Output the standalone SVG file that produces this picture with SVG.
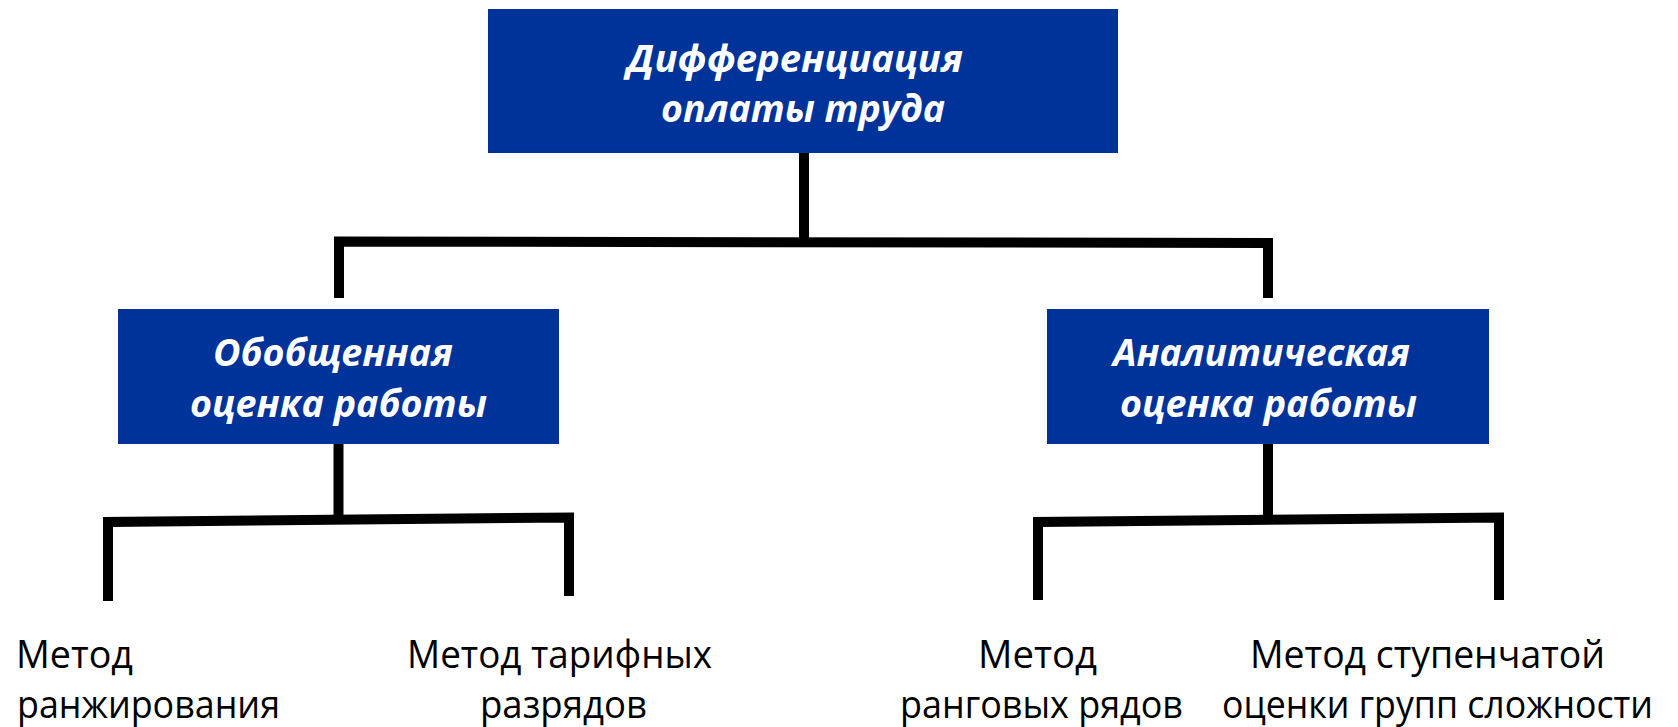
<svg xmlns="http://www.w3.org/2000/svg" width="1678" height="727" viewBox="0 0 1678 727">
<style>
.box{fill:#003399}
.t{font-family:"Open Sans","Noto Sans","Liberation Sans",sans-serif;font-weight:bold;font-style:italic;font-size:38px;fill:#ffffff}
.m{font-family:"Open Sans","Noto Sans","Liberation Sans",sans-serif;font-size:38px;fill:#000000}
.c{fill:none;stroke:#000000;stroke-width:10;stroke-linejoin:miter;stroke-linecap:butt}
</style>
<rect width="1678" height="727" fill="#ffffff"/>
<g id="connectors">
<path class="c" d="M804,153 L804,242"/>
<path class="c" d="M339,298 L339,241.5 L1268,243 L1268,298"/>
<path class="c" d="M338.5,443 L338.5,519"/>
<path class="c" d="M108,601 L108,522 L569,517.5 L569,596"/>
<path class="c" d="M1268,443 L1268,519"/>
<path class="c" d="M1038,600 L1038,522 L1499,517.5 L1499,600"/>
</g>
<g id="node-root">
<rect class="box" x="488" y="9" width="630" height="144"/>
<text class="t" x="627" y="72" textLength="336" lengthAdjust="spacingAndGlyphs">Дифференциация</text>
<text class="t" x="661" y="122" textLength="284" lengthAdjust="spacingAndGlyphs">оплаты труда</text>
</g>
<g id="node-general">
<rect class="box" x="118" y="309" width="441" height="135"/>
<text class="t" x="213" y="366" textLength="240" lengthAdjust="spacingAndGlyphs">Обобщенная</text>
<text class="t" x="190" y="417" textLength="297" lengthAdjust="spacingAndGlyphs">оценка работы</text>
</g>
<g id="node-analytic">
<rect class="box" x="1047" y="309" width="442" height="135"/>
<text class="t" x="1113" y="366" textLength="297" lengthAdjust="spacingAndGlyphs">Аналитическая</text>
<text class="t" x="1120" y="417" textLength="297" lengthAdjust="spacingAndGlyphs">оценка работы</text>
</g>
<g id="node-ranking">
<text class="m" x="16" y="668" textLength="117" lengthAdjust="spacingAndGlyphs">Метод</text>
<text class="m" x="17" y="718" textLength="263" lengthAdjust="spacingAndGlyphs">ранжирования</text>
</g>
<g id="node-tariff">
<text class="m" x="407" y="668" textLength="305" lengthAdjust="spacingAndGlyphs">Метод тарифных</text>
<text class="m" x="480" y="718" textLength="167" lengthAdjust="spacingAndGlyphs">разрядов</text>
</g>
<g id="node-rank-rows">
<text class="m" x="978" y="668" textLength="119" lengthAdjust="spacingAndGlyphs">Метод</text>
<text class="m" x="900" y="718" textLength="283" lengthAdjust="spacingAndGlyphs">ранговых рядов</text>
</g>
<g id="node-step">
<text class="m" x="1250" y="668" textLength="355" lengthAdjust="spacingAndGlyphs">Метод ступенчатой</text>
<text class="m" x="1222" y="718" textLength="431" lengthAdjust="spacingAndGlyphs">оценки групп сложности</text>
</g>
</svg>
